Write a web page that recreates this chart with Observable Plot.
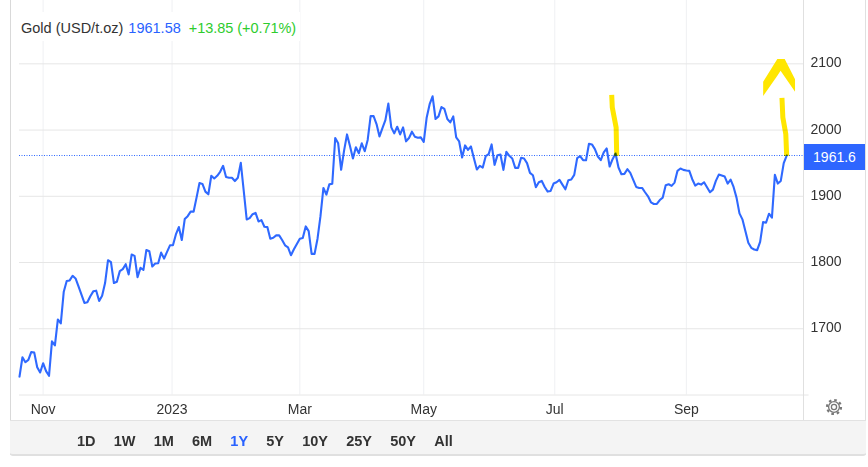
<!DOCTYPE html>
<html>
<head>
<meta charset="utf-8">
<script src="https://cdn.jsdelivr.net/npm/d3@7"></script>
<script src="https://cdn.jsdelivr.net/npm/@observablehq/plot@0.6"></script>
<style>
html,body{margin:0;padding:0;background:#fff;overflow:hidden}
body{font-family:"Liberation Sans",Arial,sans-serif}
#box{position:relative;width:868px;height:467px;overflow:hidden}
#plot{position:absolute;left:0;top:0;width:868px;height:420px}
#plot svg{display:block;background:transparent}
#head{position:absolute;left:19px;top:12px;height:29px;line-height:32px;padding:0 4px 0 2px;background:#fff;font-size:14.5px;color:#333;white-space:nowrap}
#head .v{color:#2962ff;margin-left:5px}
#head .c{color:#2ecc2e;margin-left:8px;letter-spacing:-0.05px}
#frameL{position:absolute;left:10px;top:0;width:1px;height:455px;background:#d9d9d9}
#frameR{position:absolute;left:865px;top:0;width:1px;height:455px;background:#e0e0e0}
#axisR{position:absolute;left:803px;top:0;width:1px;height:420px;background:#e0e0e0}
#band{position:absolute;left:10px;top:420px;width:856px;height:36px;background:#f4f4f4;border-top:1px solid #e2e2e2;border-bottom:2px solid #e0e0e0;box-sizing:border-box;border-radius:0 0 3px 3px}
#ranges{position:absolute;left:67px;top:3px;height:100%;display:flex;gap:18.2px;align-items:center;font-size:14.5px;font-weight:bold;color:#333}
#ranges .on{color:#2962ff}
#price{position:absolute;left:804px;width:61px;height:26px;line-height:27px;background:#2e66ff;color:#fff;font-size:14px;text-align:center}
#gear{position:absolute;left:825px;top:398px}
</style>
</head>
<body>
<div id="box">
  <div id="frameL"></div><div id="frameR"></div>
  <div id="plot"></div>
  <div id="axisR"></div>
  <div id="head"></div>
  <div id="price"></div>
  <svg id="gear" width="18" height="18" viewBox="0 0 18 18"><circle cx="9" cy="9" r="2.6" fill="none" stroke="#777" stroke-width="1.3"/><circle cx="9" cy="9" r="5.4" fill="none" stroke="#777" stroke-width="1.3"/><circle cx="9" cy="9" r="7" fill="none" stroke="#777" stroke-width="2.2" stroke-dasharray="2.6 2.9"/></svg>
  <div id="band"><div id="ranges"></div></div>
</div>
<script>
const prices = [
1627.8,1657,1649.5,1653,1665,1664,1642,1634,1648,1636,
1629,1681,1675,1714,1708,1756,1772,1773,1780,1776,
1764,1751.5,1739,1740,1749,1756.5,1757.5,1742,1750,1769,
1803.5,1800.5,1769,1771,1787,1790,1797.5,1782,1812,1810,
1778,1792,1789,1819,1817,1794,1798.5,1799,1815,1806,
1816,1826,1826,1842.4,1853.5,1834,1865.6,1870,1876.8,1876.8,
1898,1920,1918.7,1907,1903,1931,1927,1931,1937,1946,
1929,1928,1928,1923,1928,1950.5,1908,1865,1867,1873,
1875,1862,1864,1854,1853.5,1836,1837.4,1841,1841,1834,
1826,1823,1811,1820,1828,1836,1837,1854.5,1847.5,1813,
1813,1836,1870,1912.6,1902.5,1918,1919,1988,1980,1940,
1969,1993.4,1976,1957,1974,1965,1980,1968,1985,2021,
2021,2009,1990.4,2003,2015,2040,2004,1995,2005,1993.4,
2004,1983,1988,1997.5,1990,1988.4,1989,1982,2019,2039,
2051,2016.7,2020.7,2034.8,2031.8,2016.7,2011.6,2020.7,1988.9,1982.8,
1958.6,1976.8,1970.2,1975.3,1957.6,1940.4,1946,1943.4,1960.6,1963.6,
1978.3,1947.5,1962.1,1963.1,1939.9,1967.2,1961.1,1957.1,1942.9,1942.9,
1958.1,1957.1,1950,1935.4,1931.8,1913.6,1921.2,1923.2,1914.1,1907.1,
1908.1,1919.2,1921.2,1924.7,1917.7,1910.6,1924.2,1925.3,1932.3,1957.6,
1960.6,1954.5,1954.5,1979.3,1978.3,1971.2,1960.1,1954.5,1966.2,1972.2,
1945,1956,1964.6,1943.4,1933.3,1933.8,1940.9,1935.4,1924.7,1914.1,
1912.6,1912.6,1906.1,1900,1890.9,1888.4,1888.4,1894.4,1898,1916.7,
1918.2,1915.7,1920.7,1938.4,1941.9,1939.9,1938.9,1938.4,1925.8,1916.2,
1919.2,1917.7,1921.2,1913.6,1906.1,1910.1,1923.2,1932.8,1931.3,1929.8,
1919.2,1925.3,1914.1,1898,1874.2,1865.2,1847.5,1829.8,1822.2,1819.7,
1818.7,1831.3,1861.1,1860.1,1873.7,1867.7,1932.3,1919.2,1923.2,1950,
1961.58];
const tradingDays = prices.map((_, i) => i);
const monthTicks = [8, 51.7, 95, 137, 181.4, 226];
const monthLabels = ["Nov", "2023", "Mar", "May", "Jul", "Sep"];
const priceTicks = [1700, 1800, 1900, 2000, 2100];
const ranges = ["1D", "1W", "1M", "6M", "1Y", "5Y", "10Y", "25Y", "50Y", "All"];
const activeRange = "1Y";
const titleText = "Gold (USD/t.oz)";
const lastText = "1961.58";
const changeText = "+13.85 (+0.71%)";
const priceTag = "1961.6";
const lastPrice = 1961.58;
const xEnd = 265.7;
const yDomain = [1600, 2195.6];
const note1 = {x: [200.7, 200.9, 202.2, 202.4], y: [2053, 2034, 2004, 1961]};
const note2 = {x: [258.4, 258.7, 259.7, 260], y: [2048.5, 2019, 1994, 1961]};
const chevronX = [252.2, 257, 258.1, 259.5, 263];
const chevronTop = [2072.2, 2106.6, 2106.6, 2106.6, 2075.8];
const chevronBottom = [2050.5, 2081.3, 2088.9, 2079.8, 2057];
const table = (o) => o.x.map((x, i) => ({x, y: o.y[i]}));
const chevron = chevronX.map((x, i) => ({x, top: chevronTop[i], bottom: chevronBottom[i]}));

const grey = "#e6e6e6", vgrey = "#eff0f3", blue = "#2f69ff", yellow = "#ffe600";
const fontFamily = '"Liberation Sans",Arial,sans-serif';
const plot = Plot.plot({
  width: 868, height: 420,
  marginLeft: 19, marginRight: 65, marginTop: 0, marginBottom: 25.5,
  style: {background: "transparent", fontFamily, fontSize: "14px", color: "#333", overflow: "visible"},
  x: {domain: [0, xEnd]},
  y: {domain: yDomain},
  marks: [
    Plot.ruleX(monthTicks, {stroke: vgrey, strokeWidth: 1}),
    Plot.ruleY(priceTicks, {stroke: grey, strokeWidth: 1}),
    Plot.ruleY([yDomain[0]], {x1: 0, x2: xEnd + 1.9, stroke: grey, strokeWidth: 1, clip: false}),
    Plot.axisX({ticks: monthTicks, tickFormat: (d) => monthLabels[monthTicks.indexOf(d)], tickSize: 0, tickPadding: 9, fontSize: 14, fill: "#333", label: null}),
    Plot.axisY({anchor: "right", ticks: priceTicks, tickFormat: (d) => String(d), tickSize: 0, tickPadding: 7, dy: -1, fontSize: 14, fill: "#333", textAnchor: "start", label: null}),
    Plot.ruleY([lastPrice], {stroke: blue, strokeWidth: 1, strokeDasharray: "1,1.5"}),
    Plot.line(tradingDays.map((d, i) => ({d, p: prices[i]})), {x: "d", y: "p", stroke: blue, strokeWidth: 2.1, strokeLinejoin: "round"}),
    Plot.line(table(note1), {x: "x", y: "y", stroke: yellow, strokeWidth: 5, strokeLinecap: "butt", mixBlendMode: "multiply"}),
    Plot.line(table(note2), {x: "x", y: "y", stroke: yellow, strokeWidth: 5, strokeLinecap: "butt", mixBlendMode: "multiply"}),
    Plot.areaY(chevron, {x: "x", y1: "bottom", y2: "top", fill: yellow})
  ]
});
document.getElementById("plot").appendChild(plot);

const head = document.getElementById("head");
[[titleText, ""], [lastText, "v"], [changeText, "c"]].forEach(([t, c]) => {
  const s = document.createElement("span");
  s.textContent = t;
  if (c) s.className = c;
  head.appendChild(s);
});
const tag = document.getElementById("price");
tag.textContent = priceTag;
tag.style.top = (plot.scale("y").apply(lastPrice) - 11) + "px";
const rangeBox = document.getElementById("ranges");
ranges.forEach((r) => {
  const s = document.createElement("span");
  s.textContent = r;
  if (r === activeRange) s.className = "on";
  rangeBox.appendChild(s);
});
</script>
</body>
</html>
